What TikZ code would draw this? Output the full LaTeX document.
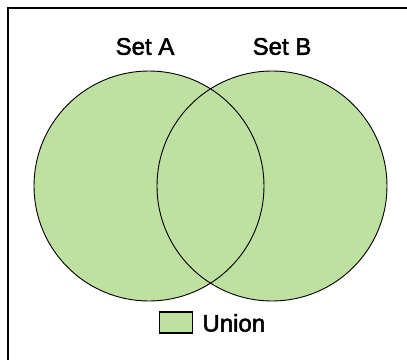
\documentclass[tikz,border=0pt]{standalone}
\usepackage{fontspec}
\setmainfont{Liberation Sans}
\newfontfamily\labelfont[FakeBold=2]{Liberation Sans}
\definecolor{uniongreen}{RGB}{190,224,160}
\tikzset{
  setlabel/.style={font=\labelfont\fontsize{24}{28}\selectfont, inner sep=0pt},
  keybox/.style={draw, fill=uniongreen, line width=1.2pt, minimum width=33pt, minimum height=21pt, inner sep=0pt}
}
\begin{document}
\begin{tikzpicture}[x=1pt,y=-1pt,line width=0.9pt]
  \useasboundingbox (0,0) rectangle (407,359);
  % frame, cut by the page on the right and bottom
  \draw[line width=2.5pt] (8,420) -- (8,8) -- (420,8);
  \fill[uniongreen] (149,186) circle (115) (272,186) circle (115);
  \draw (149,186) circle (115) (272,186) circle (115);
  \node[setlabel] (setA) at (145,46.5) {Set A};
  \node[setlabel] (setB) at (282,46.5) {Set B};
  % legend
  \node[keybox] (key) at (176,322.5) {};
  \node[setlabel, anchor=west] (union) at (202,323) {Union};
\end{tikzpicture}
\end{document}
